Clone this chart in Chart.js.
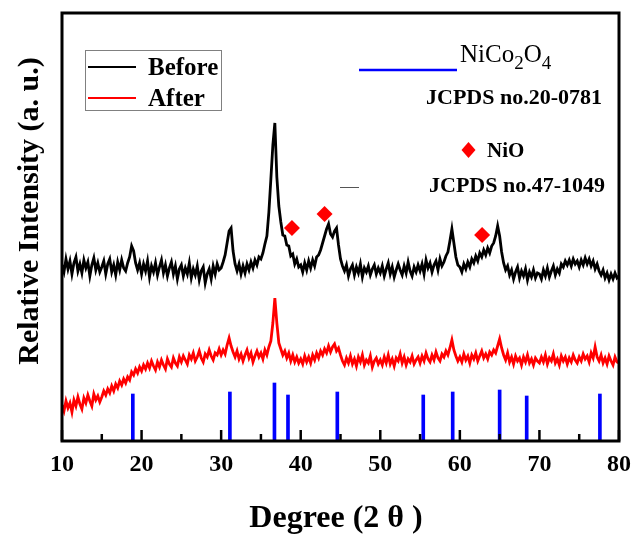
<!DOCTYPE html>
<html>
<head>
<meta charset="utf-8">
<script src="https://cdn.jsdelivr.net/npm/chart.js@4.4.0/dist/chart.umd.min.js"></script>
<style>
html, body { margin: 0; padding: 0; background: #fff; }
</style>
</head>
<body>
<canvas id="xrd" width="637" height="535"></canvas>
<script>
// scan starts at 10 deg, one reading every 0.25 deg
const angleStart = 10;
const angleStep = 0.25;

const before = [
    176,169,182,172,180,167,178,184,170,177,168,181,173,179,165,176,183,171,178,169,
    174,180,167,177,182,169,176,166,179,171,181,173,170,178,184,195,190,178,171,178,
    167,177,170,180,164,175,169,178,166,174,181,168,176,165,173,179,167,175,162,172,
    176,165,173,167,178,163,172,166,175,161,170,174,158,167,172,162,175,167,177,171,
    173,179,186,198,210,213,190,177,170,177,167,175,168,177,171,179,173,181,176,184,
    182,188,197,205,229,262,296,318,264,235,219,206,205,196,195,185,187,177,182,174,
    176,169,178,171,180,173,181,175,184,186,191,198,205,212,217,207,204,210,213,196,
    182,175,170,176,165,172,176,166,174,168,177,164,173,169,175,166,172,176,167,173,
    168,175,165,172,178,167,174,164,171,177,171,166,175,168,179,170,165,174,169,176,
    170,177,167,181,173,178,169,176,180,171,182,175,179,185,189,200,212,198,184,176,
    174,169,177,172,179,174,182,178,185,180,188,184,191,186,193,188,195,198,205,215,
    205,189,178,171,175,166,171,162,169,174,163,170,165,172,161,169,164,171,163,168,
    167,162,171,165,173,164,170,175,166,172,168,177,174,180,176,181,175,182,177,180,
    174,181,176,183,177,182,175,180,172,177,170,166,171,163,168,161,167,162,168,163,
    165
];

const after = [
    36,30,40,33,38,29,41,35,44,37,32,43,38,46,40,35,47,41,45,39,
    44,50,46,52,48,55,50,57,53,60,56,62,58,64,61,69,66,72,68,74,
    70,76,72,78,73,80,75,71,79,74,81,76,72,82,77,74,83,78,75,84,
    79,85,81,77,86,82,88,80,84,90,83,79,87,84,91,85,81,88,86,92,
    86,91,87,96,103,95,89,84,90,82,87,80,86,91,83,88,79,85,90,84,
    88,82,91,86,94,100,118,143,118,98,92,86,90,83,88,80,86,79,84,78,
    82,77,85,79,84,78,86,81,88,83,90,86,92,88,95,89,94,97,90,93,
    86,80,76,83,78,85,77,82,75,84,79,86,76,81,78,85,74,80,83,77,
    81,76,84,78,86,77,82,75,83,80,87,78,84,76,82,79,85,77,81,84,
    78,85,80,88,82,79,86,81,89,83,80,87,84,90,86,93,101,91,85,80,
    84,79,87,81,85,78,86,82,88,80,85,90,83,87,82,89,86,91,88,95,
    102,93,86,81,88,79,84,77,85,80,83,76,84,79,86,78,82,76,83,80,
    78,84,79,86,77,83,80,87,78,82,76,85,80,84,77,83,79,86,81,78,
    84,80,87,82,85,79,88,83,94,84,80,86,78,83,77,85,80,76,84,79,
    78
];

// NiCo2O4 reference lines (JCPDS 20-0781)
const nicoPeaks = [18.9, 31.1, 36.7, 38.4, 44.6, 55.4, 59.1, 65.0, 68.4, 77.6];
const nicoHeights = [47, 49, 58, 46, 49, 46, 49, 51, 45, 47];

// NiO markers
const nioAngles = [38.9, 43.0, 62.8];
const nioLevels = [213, 227, 206];

const xMin = 10, xMax = 80;
const majorTicks = [10, 20, 30, 40, 50, 60, 70, 80];
const minorTicks = [15, 25, 35, 45, 55, 65, 75];

const serif = '"Liberation Serif", "Times New Roman", serif';

function toPoints(arr) {
    return arr.map((v, i) => ({ x: angleStart + i * angleStep, y: v }));
}

const framePlugin = {
    id: "frame",
    afterDraw(chart) {
        const ctx = chart.ctx;
        const a = chart.chartArea;
        const xs = chart.scales.x;
        ctx.save();

        // inward ticks on bottom axis
        ctx.strokeStyle = "#000";
        ctx.lineWidth = 2.5;
        majorTicks.forEach((t) => {
            const px = xs.getPixelForValue(t);
            ctx.beginPath();
            ctx.moveTo(px, a.bottom);
            ctx.lineTo(px, a.bottom - 11);
            ctx.stroke();
        });
        minorTicks.forEach((t) => {
            const px = xs.getPixelForValue(t);
            ctx.beginPath();
            ctx.moveTo(px, a.bottom);
            ctx.lineTo(px, a.bottom - 7);
            ctx.stroke();
        });

        // box
        ctx.lineWidth = 3;
        ctx.strokeRect(a.left, a.top, a.right - a.left, a.bottom - a.top);

        // axis titles
        ctx.fillStyle = "#000";
        ctx.font = "bold 30px " + serif;
        ctx.textAlign = "center";
        ctx.textBaseline = "middle";
        ctx.save();
        ctx.translate(30, 211);
        ctx.rotate(-Math.PI / 2);
        ctx.fillText("Relative Intensity (a. u.)", 0, 0);
        ctx.restore();
        ctx.font = "bold 32px " + serif;
        ctx.textBaseline = "alphabetic";
        ctx.fillText("Degree (2 \u03b8 )", 336, 527);

        // legend box
        ctx.lineWidth = 1;
        ctx.strokeStyle = "#808080";
        ctx.strokeRect(85.5, 50.5, 136, 60);
        ctx.lineWidth = 2;
        ctx.strokeStyle = "#000";
        ctx.beginPath();
        ctx.moveTo(88, 67);
        ctx.lineTo(136, 67);
        ctx.stroke();
        ctx.strokeStyle = "#ff0000";
        ctx.beginPath();
        ctx.moveTo(88, 98);
        ctx.lineTo(136, 98);
        ctx.stroke();
        ctx.font = "bold 25px " + serif;
        ctx.textAlign = "left";
        ctx.fillText("Before", 148, 75);
        ctx.fillText("After", 148, 106);

        // NiCo2O4 key
        ctx.strokeStyle = "#0000ff";
        ctx.lineWidth = 2.5;
        ctx.beginPath();
        ctx.moveTo(359, 70);
        ctx.lineTo(457, 70);
        ctx.stroke();
        let x = 460;
        const parts = [["NiCo", 25, 62], ["2", 19, 69], ["O", 25, 62], ["4", 19, 69]];
        parts.forEach(([txt, size, base]) => {
            ctx.font = size + "px " + serif;
            ctx.fillText(txt, x, base);
            x += ctx.measureText(txt).width;
        });
        ctx.font = "bold 22px " + serif;
        ctx.fillText("JCPDS no.20-0781", 426, 104);

        // NiO key
        ctx.fillStyle = "#ff0000";
        ctx.beginPath();
        ctx.moveTo(468.5, 142);
        ctx.lineTo(475.5, 150);
        ctx.lineTo(468.5, 158);
        ctx.lineTo(461.5, 150);
        ctx.closePath();
        ctx.fill();
        ctx.fillStyle = "#000";
        ctx.font = "bold 21px " + serif;
        ctx.fillText("NiO", 487, 157);
        ctx.font = "bold 22px " + serif;
        ctx.fillText("JCPDS no.47-1049", 429, 191.5);

        // stray dash in the original
        ctx.strokeStyle = "#555";
        ctx.lineWidth = 1;
        ctx.beginPath();
        ctx.moveTo(340, 187.5);
        ctx.lineTo(359, 187.5);
        ctx.stroke();

        ctx.restore();
    },
};

new Chart(document.getElementById("xrd"), {
    type: "line",
    data: {
        datasets: [
            {
                label: "Before",
                data: toPoints(before),
                borderColor: "#000000",
                borderWidth: 2.8,
                pointRadius: 0,
                tension: 0,
            },
            {
                label: "After",
                data: toPoints(after),
                borderColor: "#ff0000",
                borderWidth: 2.8,
                pointRadius: 0,
                tension: 0,
            },
            {
                type: "bar",
                label: "NiCo2O4",
                data: nicoPeaks.map((p, i) => ({ x: p, y: nicoHeights[i] })),
                backgroundColor: "#0000ff",
                barThickness: 3,
                grouped: false,
            },
            {
                type: "scatter",
                label: "NiO",
                data: nioAngles.map((p, i) => ({ x: p, y: nioLevels[i] })),
                backgroundColor: "#ff0000",
                borderWidth: 0,
                pointStyle: "rectRot",
                pointRadius: 8,
                showLine: false,
            },
        ],
    },
    options: {
        responsive: false,
        devicePixelRatio: 1,
        animation: false,
        layout: { padding: { left: 62, top: 13, right: 18, bottom: 0 } },
        plugins: {
            legend: { display: false },
            tooltip: { enabled: false },
        },
        scales: {
            x: {
                type: "linear",
                min: xMin,
                max: xMax,
                offset: false,
                grid: { display: false, drawTicks: false },
                border: { display: false },
                ticks: {
                    stepSize: 10,
                    padding: 9,
                    color: "#000",
                    font: { family: serif, size: 24, weight: "bold" },
                },
                afterFit: (s) => {
                    s.height = 94;
                    s.paddingLeft = 0;
                    s.paddingRight = 0;
                },
            },
            y: {
                display: false,
                min: 0,
                max: 428,
            },
        },
    },
    plugins: [framePlugin],
});
</script>
</body>
</html>
